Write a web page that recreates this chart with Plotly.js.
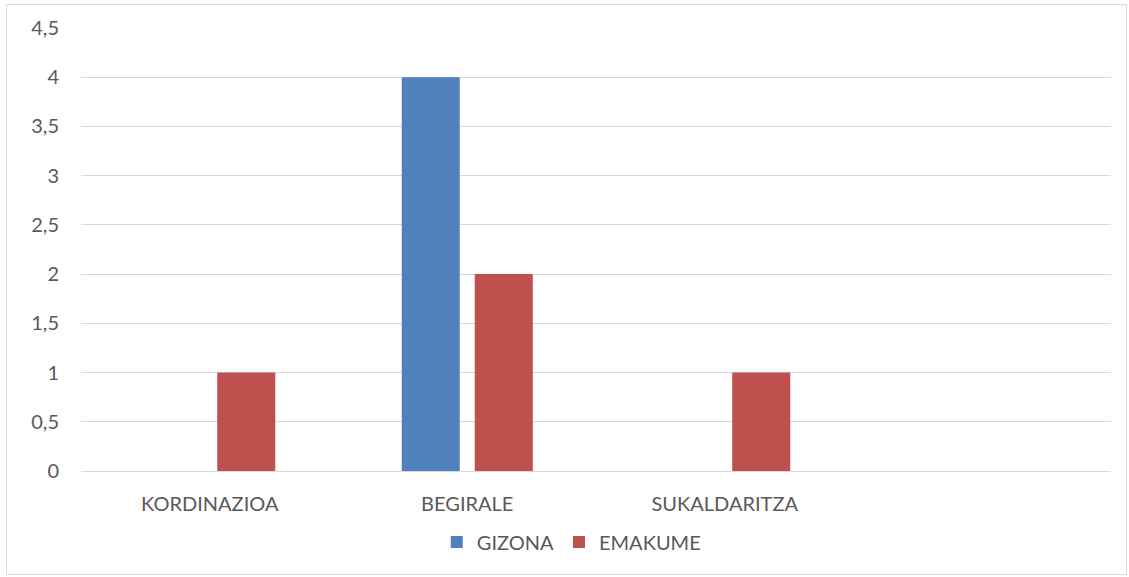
<!DOCTYPE html>
<html>
<head>
<meta charset="utf-8">
<script src="https://cdn.plot.ly/plotly-3.0.1.min.js"></script>
<style>
  html, body { margin: 0; padding: 0; background: #fff; }
  #chart { position: absolute; left: 0; top: 0; width: 1129px; height: 577px; }
  #frame { position: absolute; left: 6px; top: 4px; width: 1121px; height: 571px; box-sizing: border-box; border: 1px solid #d9d9d9; pointer-events: none; }
</style>
</head>
<body>
<div id="chart"></div>
<div id="frame"></div>
<script>
const categories = ["KORDINAZIOA", "BEGIRALE", "SUKALDARITZA", " "];
const gizona = [null, 4, null, null];
const emakume = [1, 2, 1, null];
const yTicks = [0, 0.5, 1, 1.5, 2, 2.5, 3, 3.5, 4, 4.5];

const font = { family: "Lato, 'Open Sans', sans-serif", size: 20, color: "#595959" };

const data = [
  { type: "bar", name: "GIZONA", x: categories, y: gizona, marker: { color: "#4F81BD" }, hoverinfo: "none" },
  { type: "bar", name: "EMAKUME", x: categories, y: emakume, marker: { color: "#C0504D" }, hoverinfo: "none" }
];

const layout = {
  width: 1129, height: 577,
  margin: { l: 81, r: 18, t: 28, b: 106 },
  paper_bgcolor: "rgba(0,0,0,0)", plot_bgcolor: "rgba(0,0,0,0)",
  separators: ", ",
  barmode: "group",
  bargap: 0.433,
  bargroupgap: 0.205,
  font: font,
  showlegend: true,
  legend: {
    orientation: "h", x: 0.476, xanchor: "center", y: -0.16, yanchor: "middle",
    font: { family: font.family, size: 20, color: "#595959" },
    itemwidth: 30, tracegroupgap: 0, traceorder: "normal"
  },
  xaxis: {
    type: "category", categoryorder: "array", categoryarray: categories,
    range: [-0.5, 3.5],
    showgrid: false, zeroline: false, showline: false,
    ticks: "", tickfont: font, ticklabelstandoff: 19, fixedrange: true
  },
  yaxis: {
    range: [0, 4.5], tickvals: yTicks,
    showgrid: true, gridcolor: "#d9d9d9", gridwidth: 1,
    zeroline: true, zerolinecolor: "#d9d9d9", zerolinewidth: 1,
    showline: false, ticks: "", tickfont: font, ticklabelstandoff: 21, fixedrange: true
  }
};

Plotly.newPlot("chart", data, layout, { displayModeBar: false, staticPlot: true });
</script>
</body>
</html>
